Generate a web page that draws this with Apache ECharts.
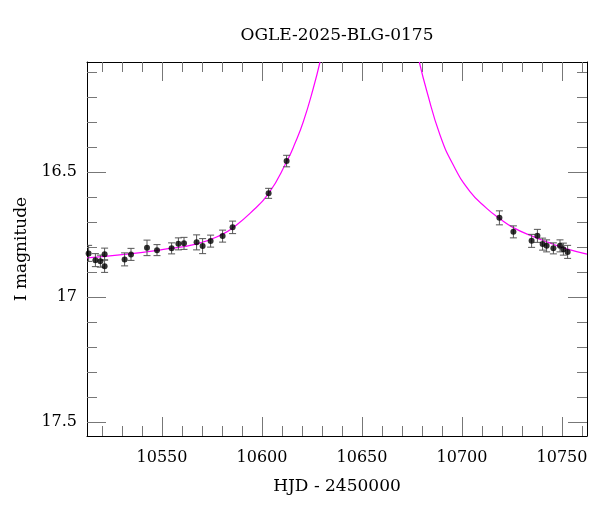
<!DOCTYPE html>
<html>
<head>
<meta charset="utf-8">
<script src="https://cdn.jsdelivr.net/npm/echarts@6/dist/echarts.min.js"></script>
<style>html,body{margin:0;padding:0;background:#fff;}#c{width:600px;height:512px;}</style>
</head>
<body>
<div id="c"></div>
<script>
// Observations (HJD - 2450000, I mag, error)
var obsDays = [10513.3, 10516.7, 10519.2, 10521.3, 10521.3, 10531.3, 10534.5, 10542.5, 10547.5,
  10554.8, 10558.2, 10561.0, 10567.3, 10570.3, 10574.3, 10580.3, 10585.3, 10603.3, 10612.3,
  10718.7, 10725.7, 10734.8, 10737.7, 10740.3, 10742.3, 10745.7, 10749.0, 10750.7, 10752.8];
var obsMags = [16.825, 16.852, 16.856, 16.828, 16.876, 16.849, 16.829, 16.803, 16.812,
  16.805, 16.787, 16.785, 16.781, 16.796, 16.776, 16.756, 16.721, 16.585, 16.456,
  16.683, 16.739, 16.775, 16.755, 16.788, 16.795, 16.805, 16.795, 16.808, 16.819];
var obsErrs = [0.032, 0.026, 0.024, 0.024, 0.025, 0.026, 0.024, 0.031, 0.022,
  0.022, 0.024, 0.024, 0.030, 0.030, 0.024, 0.024, 0.025, 0.020, 0.023,
  0.028, 0.024, 0.026, 0.026, 0.024, 0.024, 0.022, 0.024, 0.024, 0.026];

// Model curve (two visible branches)
var modelLeftDays = [10512.5, 10532.5, 10550.0, 10567.5, 10580.35, 10585.35, 10594.0, 10603.35, 10612.35, 10616.5, 10620.65, 10625.65, 10629.0];
var modelLeftMags = [16.843, 16.828, 16.810, 16.787, 16.748, 16.723, 16.665, 16.585, 16.458, 16.385, 16.299, 16.165, 16.060];
var modelRightDays = [10678.65, 10682.35, 10689.0, 10695.65, 10704.0, 10712.35, 10718.65, 10725.65, 10735.65, 10743.15, 10752.0, 10762.5];
var modelRightMags = [16.060, 16.175, 16.352, 16.472, 16.578, 16.645, 16.685, 16.722, 16.758, 16.781, 16.806, 16.828];

var xMajor = [10550, 10600, 10650, 10700, 10750];
var xMinor = [10520, 10530, 10540, 10560, 10570, 10580, 10590, 10610, 10620, 10630, 10640, 10660, 10670, 10680, 10690, 10710, 10720, 10730, 10740, 10760];
var yMajor = [16.5, 17, 17.5];
var yMinor = [16.1, 16.2, 16.3, 16.4, 16.6, 16.7, 16.8, 16.9, 17.1, 17.2, 17.3, 17.4];
var xLabels = ['10550', '10600', '10650', '10700', '10750'];
var yLabels = ['16.5', '17', '17.5'];

var FONT = 'DejaVu Serif';
var X_MIN = 10512.5, X_MAX = 10762.5, Y_MIN = 16.06, Y_MAX = 17.555;

function xAx(pos, ticks, len, showLine, labels, name) {
  return {
    type: 'value', position: pos, min: X_MIN, max: X_MAX,
    splitLine: {show: false},
    axisLine: {show: showLine, onZero: false, lineStyle: {color: '#000', width: 1}},
    axisTick: {show: true, inside: true, length: len, customValues: ticks, lineStyle: {color: '#777', width: 1}},
    axisLabel: labels ? {show: true, customValues: ticks, margin: 14, color: '#000', fontFamily: FONT, fontSize: 16,
      formatter: function (v) { return labels[xMajor.indexOf(v)] || String(v); }} : {show: false},
    name: name || '', nameLocation: 'middle', nameGap: 42,
    nameTextStyle: {color: '#000', fontFamily: FONT, fontSize: 17}
  };
}
function yAx(pos, ticks, len, showLine, labels, name) {
  return {
    type: 'value', position: pos, min: Y_MIN, max: Y_MAX, inverse: true,
    splitLine: {show: false},
    axisLine: {show: showLine, onZero: false, lineStyle: {color: '#000', width: 1}},
    axisTick: {show: true, inside: true, length: len, customValues: ticks, lineStyle: {color: '#777', width: 1}},
    axisLabel: labels ? {show: true, customValues: ticks, margin: 10, color: '#000', fontFamily: FONT, fontSize: 16,
      formatter: function (v) { return labels[yMajor.indexOf(Math.round(v * 10) / 10)] || String(v); }} : {show: false},
    name: name || '', nameLocation: 'middle', nameGap: 56, nameRotate: 90,
    nameTextStyle: {color: '#000', fontFamily: FONT, fontSize: 17}
  };
}

var errData = obsDays.map(function (d, i) { return [d, obsMags[i], obsErrs[i]]; });
var ptData = obsDays.map(function (d, i) { return [d, obsMags[i]]; });
var modelData = [];
modelLeftDays.forEach(function (d, i) { modelData.push([d, modelLeftMags[i]]); });
modelData.push([null, null]);
modelRightDays.forEach(function (d, i) { modelData.push([d, modelRightMags[i]]); });

var chart = echarts.init(document.getElementById('c'), null, {renderer: 'canvas'});
chart.setOption({
  animation: false,
  backgroundColor: '#fff',
  grid: {left: 87, top: 62, right: 13, bottom: 76, containLabel: false},
  graphic: [{type: 'text', x: 337, y: 36, style: {text: 'OGLE-2025-BLG-0175', fill: '#000', font: '17px "DejaVu Serif"', textAlign: 'center', textVerticalAlign: 'middle'}}],
  xAxis: [
    xAx('bottom', xMajor, 19, true, xLabels, 'HJD - 2450000'),
    xAx('bottom', xMinor, 10, false, null),
    xAx('top', xMajor, 19, true, null),
    xAx('top', xMinor, 10, false, null)
  ],
  yAxis: [
    yAx('left', yMajor, 19, true, yLabels, 'I magnitude'),
    yAx('left', yMinor, 10, false, null),
    yAx('right', yMajor, 19, true, null),
    yAx('right', yMinor, 10, false, null)
  ],
  series: [
    {
      type: 'line', xAxisIndex: 0, yAxisIndex: 0, data: modelData, showSymbol: false,
      smooth: 0.5, connectNulls: false, clip: true,
      lineStyle: {color: '#ff00ff', width: 1.2}, z: 2
    },
    {
      type: 'custom', xAxisIndex: 0, yAxisIndex: 0, data: errData, clip: true, z: 3,
      renderItem: function (params, api) {
        var x = api.value(0), y = api.value(1), e = api.value(2);
        var top = api.coord([x, y - e]);
        var bot = api.coord([x, y + e]);
        var st = {stroke: '#555', lineWidth: 1};
        return {type: 'group', children: [
          {type: 'line', shape: {x1: top[0], y1: top[1], x2: bot[0], y2: bot[1]}, style: st},
          {type: 'line', shape: {x1: top[0] - 3.5, y1: top[1], x2: top[0] + 3.5, y2: top[1]}, style: st},
          {type: 'line', shape: {x1: bot[0] - 3.5, y1: bot[1], x2: bot[0] + 3.5, y2: bot[1]}, style: st}
        ]};
      }
    },
    {
      type: 'scatter', xAxisIndex: 0, yAxisIndex: 0, data: ptData, symbol: 'circle', symbolSize: 6,
      itemStyle: {color: '#000'}, z: 4, clip: true
    }
  ]
});
</script>
</body>
</html>
